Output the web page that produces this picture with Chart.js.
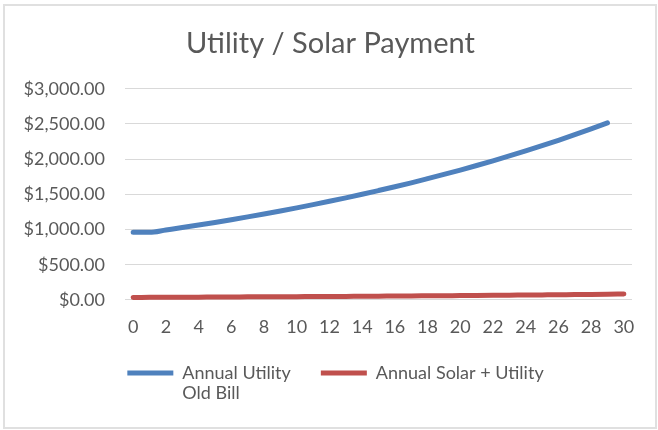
<!DOCTYPE html>
<html>
<head>
<meta charset="utf-8">
<script src="https://cdn.jsdelivr.net/npm/chart.js@4"></script>
<style>
  body { margin: 0; background: #fff; }
  #box {
    position: absolute; left: 3px; top: 4px;
    width: 650px; height: 421px;
    border: 2px solid #e0e0e0;
  }
</style>
</head>
<body>
<div id="box"><canvas id="Chart"></canvas></div>
<script>
const years = [0, 1, 2, 3, 4, 5, 6, 7, 8, 9, 10, 11, 12, 13, 14, 15,
    16, 17, 18, 19, 20, 21, 22, 23, 24, 25, 26, 27, 28, 29, 30];

// Annual Utility / Old Bill (no value for year 30)
const oldBill = [960, 960, 994, 1028, 1064, 1101, 1140, 1180, 1221, 1264,
    1308, 1354, 1401, 1450, 1501, 1554, 1608, 1664, 1723, 1783,
    1845, 1910, 1977, 2046, 2117, 2191, 2268, 2348, 2430, 2515, null];

// Annual Solar + Utility
const solarUtility = [35, 36, 37, 38, 39, 40, 41, 43, 44, 45,
    46, 48, 49, 50, 52, 53, 55, 56, 58, 60,
    61, 63, 65, 67, 69, 71, 73, 76, 78, 81, 85];

const seriesNames = ['Annual Utility', 'Annual Solar + Utility'];
const secondLine = 'Old Bill';
const yTicks = [0, 500, 1000, 1500, 2000, 2500, 3000];

const textColor = '#595959';
const fontFamily = 'Lato, "Open Sans", sans-serif';
const fontSize = 18;

// title and legend sit a bit right of the plot centre, like the Excel original
const nudgePlugin = {
    id: 'nudge',
    afterLayout(chart) {
        chart.legend.left += 17;
        chart.legend.right += 17;
        chart.titleBlock.left += 12;
        chart.titleBlock.right += 12;
    }
};

// legend label for the blue series runs onto a second line
const secondLinePlugin = {
    id: 'secondLine',
    afterDraw(chart) {
        const legend = chart.legend;
        const hb = legend.legendHitBoxes[0];
        if (!hb) return;
        const ctx = chart.ctx;
        ctx.save();
        ctx.font = fontSize + 'px ' + fontFamily;
        ctx.fillStyle = textColor;
        ctx.textBaseline = 'middle';
        ctx.textAlign = 'left';
        const x = hb.left + legend.options.labels.pointStyleWidth + fontSize / 2;
        const y = hb.top + hb.height / 2 + 20;
        ctx.fillText(secondLine, x, y);
        ctx.restore();
    }
};

const Ctx = document.getElementById('Chart');

new Chart(Ctx, {
    type: 'line',
    data: {
        labels: years,
        datasets: [
            {
                label: seriesNames[0],
                data: oldBill,
                borderColor: '#4F81BD',
                backgroundColor: '#4F81BD',
                borderWidth: 5,
                borderCapStyle: 'round',
                pointRadius: 0,
                pointStyle: 'line',
                cubicInterpolationMode: 'monotone'
            },
            {
                label: seriesNames[1],
                data: solarUtility,
                borderColor: '#C0504D',
                backgroundColor: '#C0504D',
                borderWidth: 5,
                borderCapStyle: 'round',
                pointRadius: 0,
                pointStyle: 'line',
                cubicInterpolationMode: 'monotone'
            }
        ]
    },
    options: {
        responsive: true,
        maintainAspectRatio: false,
        animation: false,
        layout: {
            padding: { left: 0, right: 23, top: 0, bottom: 35 }
        },
        scales: {
            x: {
                offset: true,
                afterFit: function (scale) { scale.height -= 19.5; },
                grid: { display: false, drawTicks: false },
                border: { display: false },
                ticks: {
                    color: textColor,
                    font: { family: fontFamily, size: fontSize },
                    padding: 16,
                    maxRotation: 0,
                    autoSkip: false,
                    callback: function (value, index) {
                        return index % 2 === 0 ? years[index] : '';
                    }
                }
            },
            y: {
                min: yTicks[0],
                max: yTicks[yTicks.length - 1],
                afterFit: function (scale) { scale.width = 120; },
                grid: { color: '#d9d9d9', lineWidth: 1, drawTicks: false },
                border: { display: false },
                ticks: {
                    stepSize: 500,
                    color: textColor,
                    padding: 20,
                    font: { family: fontFamily, size: fontSize },
                    callback: function (value) {
                        return '$' + value.toLocaleString('en-US', {
                            minimumFractionDigits: 2, maximumFractionDigits: 2
                        });
                    }
                }
            }
        },
        plugins: {
            title: {
                display: true,
                text: 'Utility / Solar Payment',
                color: textColor,
                font: { family: fontFamily, size: 29, weight: 'normal' },
                padding: { top: 20, bottom: 28 }
            },
            legend: {
                display: true,
                position: 'bottom',
                labels: {
                    color: textColor,
                    font: { family: fontFamily, size: fontSize },
                    usePointStyle: true,
                    pointStyle: 'line',
                    pointStyleWidth: 46,
                    padding: 30
                }
            },
            tooltip: { enabled: false }
        }
    },
    plugins: [nudgePlugin, secondLinePlugin]
});
</script>
</body>
</html>
